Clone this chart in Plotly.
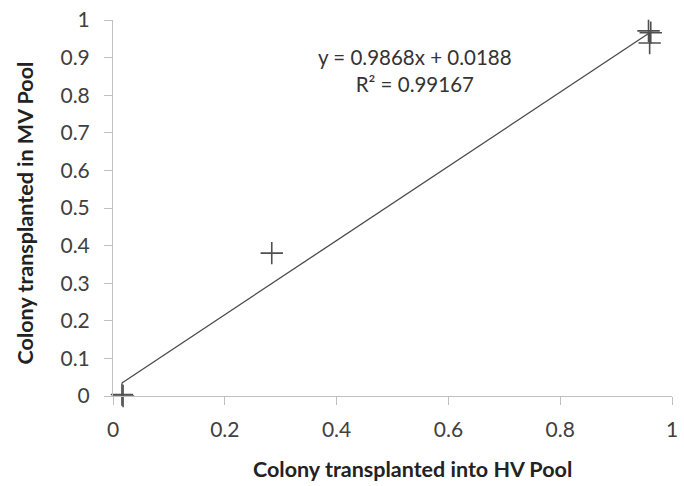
import plotly.graph_objects as go
import numpy as np

# Data
x_hv = [0.016, 0.018, 0.284, 0.958, 0.960, 0.962]
y_mv = [0.004, 0.0, 0.38, 0.971, 0.939, 0.966]
slope = 0.9868
intercept = 0.0188
r2 = 0.99167
x_ticks = [0, 0.2, 0.4, 0.6, 0.8, 1]
x_tick_labels = ["0", "0.2", "0.4", "0.6", "0.8", "1"]
y_ticks = [0, 0.1, 0.2, 0.3, 0.4, 0.5, 0.6, 0.7, 0.8, 0.9, 1]
y_tick_labels = ["0", "0.1", "0.2", "0.3", "0.4", "0.5", "0.6", "0.7", "0.8", "0.9", "1"]
x_title = "Colony transplanted into HV Pool"
y_title = "Colony transplanted in MV Pool"

font_family = "Lato, Open Sans, sans-serif"

fig = go.Figure()

x_line = np.array([min(x_hv), max(x_hv)])
fig.add_trace(go.Scatter(
    x=x_line, y=slope * x_line + intercept, mode="lines",
    line=dict(color="#4a4a4a", width=1.3), showlegend=False, hoverinfo="skip",
    cliponaxis=False))

fig.add_trace(go.Scatter(
    x=x_hv, y=y_mv, mode="markers", cliponaxis=False,
    marker=dict(symbol="cross-thin", size=16, line=dict(color="#505050", width=1.6)),
    showlegend=False))

fig.add_annotation(
    x=0.54, y=0.866, xref="x", yref="y",
    text=f"y = {slope}x + {intercept}<br>R² = {r2}",
    showarrow=False, align="center",
    font=dict(family=font_family, size=20.5, color="#333333"))

# Axis titles placed as annotations
fig.add_annotation(
    x=0.536, y=-0.194, xref="paper", yref="paper",
    text=f"<b>{x_title}</b>", showarrow=False,
    xanchor="center", yanchor="middle",
    font=dict(family=font_family, size=21.5, color="#222222"))
fig.add_annotation(
    x=-0.1575, y=0.488, xref="paper", yref="paper",
    text=f"<b>{y_title}</b>", showarrow=False, textangle=-90,
    xanchor="center", yanchor="middle",
    font=dict(family=font_family, size=21.5, color="#222222"))

axis_common = dict(
    showgrid=False, zeroline=False, showline=True, linecolor="#c0c0c0", linewidth=1,
    ticks="outside", ticklen=8, tickcolor="#c0c0c0", ticklabeloverflow="allow",
    tickfont=dict(family=font_family, size=21, color="#404040"))

fig.update_xaxes(range=[0, 1], tickvals=x_ticks, ticktext=x_tick_labels,
                 ticklabelstandoff=7, **axis_common)
fig.update_yaxes(range=[0, 1], tickvals=y_ticks, ticktext=y_tick_labels,
                 ticklabelstandoff=10, **axis_common)

fig.update_layout(
    width=684, height=486,
    margin=dict(l=113, r=6, t=15, b=90),
    plot_bgcolor="white", paper_bgcolor="white",
)

fig.write_html("out.html")
